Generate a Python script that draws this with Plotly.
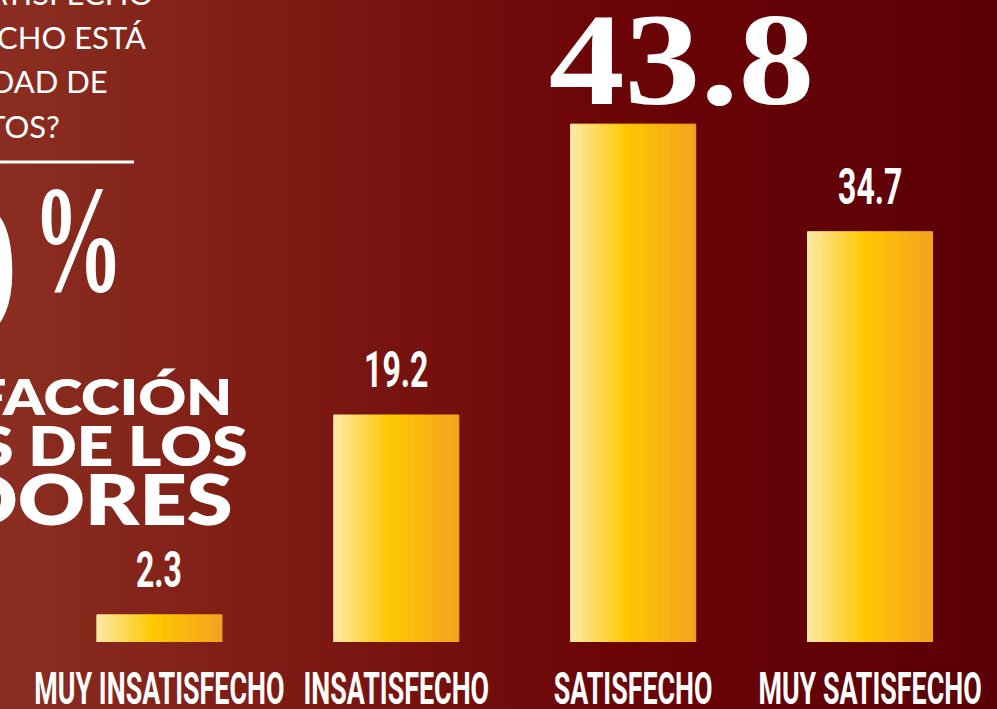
import base64
import plotly.graph_objects as go

# ---------------- data ----------------
categories = ["MUY INSATISFECHO", "INSATISFECHO", "SATISFECHO", "MUY SATISFECHO"]
values = [2.3, 19.2, 43.8, 34.7]
value_labels = ["2.3", "19.2", "43.8", "34.7"]

question_lines = ["¿QUÉ TAN SATISFECHO", "O INSATISFECHO ESTÁ", "CON LA CALIDAD DE", "LOS PRODUCTOS?"]
headline_number = "79"
headline_percent = "%"
headline_lines = ["SATISFACCIÓN", "EN PRODUCTOS DE LOS", "CONSUMIDORES"]

# ---------------- style ----------------
W, H = 997, 709
MB = 67
PH = H - MB  # plot height

# font stacks; each stack gets its own horizontal scale in the post script below
COND = "Roboto, Liberation Sans, sans-serif"                   # condensed value labels
COND_TICK = "Roboto, Liberation Sans, DejaVu Sans, sans-serif"  # condensed category labels
SERIF_WIDE = "Liberation Serif, serif"                          # big headline number
SERIF_PCT = "Liberation Serif, Tinos, serif"                    # tall narrow percent sign
SERIF = "Liberation Serif, DejaVu Serif, serif"
GEO_BOLD = "Lato, Open Sans, sans-serif"                        # geometric headline
GEO = "Lato, Noto Sans, sans-serif"                             # question text

SCALE = {COND: 0.64, COND_TICK: 0.61, SERIF_WIDE: 1.15, SERIF_PCT: 0.6, GEO_BOLD: 1.18}


def px_x(px):
    return px / W


def px_y(py):
    return (PH - py) / PH


bar_stops = [(0.0, (254, 233, 170)), (0.45, (255, 201, 2)), (1.0, (244, 163, 32))]


def grad(t):
    for (t0, c0), (t1, c1) in zip(bar_stops[:-1], bar_stops[1:]):
        if t <= t1:
            f = (t - t0) / (t1 - t0)
            return "rgb(%d,%d,%d)" % tuple(round(a + (b - a) * f) for a, b in zip(c0, c1))
    return "rgb(%d,%d,%d)" % bar_stops[-1][1]


bg_svg = (
    '<svg xmlns="http://www.w3.org/2000/svg" width="997" height="709" preserveAspectRatio="none">'
    '<defs><linearGradient id="g" x1="0" y1="0" x2="1" y2="0">'
    '<stop offset="0" stop-color="#8b2e21"/>'
    '<stop offset="0.3" stop-color="#7d1a13"/>'
    '<stop offset="0.6" stop-color="#6c0508"/>'
    '<stop offset="1" stop-color="#5a0006"/>'
    '</linearGradient></defs>'
    '<rect width="997" height="709" fill="url(#g)"/></svg>'
)
bg_uri = "data:image/svg+xml;base64," + base64.b64encode(bg_svg.encode()).decode()

fig = go.Figure()

# each bar is drawn as a group of narrow strips giving the horizontal gold gradient
N = 40
for i in range(N):
    col = grad((i + 0.5) / N)
    fig.add_trace(go.Bar(
        x=categories, y=values,
        marker=dict(color=col, line=dict(width=1, color=col)),
        showlegend=False, hoverinfo="skip" if i else "x+y",
    ))

annotations = []
vmax = max(values)
for cat, v, lab in zip(categories, values, value_labels):
    if v == vmax:
        annotations.append(dict(x=cat, y=v, xref="x", yref="y", text=lab, showarrow=False,
                                xanchor="center", yanchor="bottom", yshift=-11, xshift=48,
                                font=dict(family=SERIF_WIDE, size=132, color="white", weight="bold")))
    else:
        annotations.append(dict(x=cat, y=v, xref="x", yref="y", text=lab, showarrow=False,
                                xanchor="center", yanchor="bottom", yshift=14,
                                font=dict(family=COND, size=50, color="white", weight="bold")))

# question block (left, partially cut by the edge)
q_right = [155, 148, 110, 62]
q_center = [-7, 37, 81, 126]
for txt, r, c in zip(question_lines, q_right, q_center):
    annotations.append(dict(x=px_x(r), y=px_y(c), xref="paper", yref="paper", text=txt,
                            showarrow=False, xanchor="right", yanchor="middle", align="right",
                            font=dict(family=GEO, size=31, color="white")))

annotations.append(dict(x=px_x(22), y=px_y(270), xref="paper", yref="paper", text=headline_number,
                        showarrow=False, xanchor="right", yanchor="middle",
                        font=dict(family=SERIF, size=215, color="white", weight="bold")))
annotations.append(dict(x=px_x(78), y=px_y(240), xref="paper", yref="paper", text=headline_percent,
                        showarrow=False, xanchor="center", yanchor="middle",
                        font=dict(family=SERIF_PCT, size=152, color="white", weight="bold")))

h_right = [234, 250, 234]
h_center = [396, 445, 498]
h_size = [50, 54, 70]
for txt, r, c, s in zip(headline_lines, h_right, h_center, h_size):
    annotations.append(dict(x=px_x(r), y=px_y(c), xref="paper", yref="paper", text=txt,
                            showarrow=False, xanchor="right", yanchor="middle", align="right",
                            font=dict(family=GEO_BOLD, size=s, color="white", weight=800)))

fig.update_layout(
    width=W, height=H,
    margin=dict(l=0, r=0, t=0, b=MB, pad=0, autoexpand=False),
    paper_bgcolor="#6c0508",
    plot_bgcolor="rgba(0,0,0,0)",
    barmode="group", bargap=0.472, bargroupgap=0,
    showlegend=False,
    annotations=annotations,
    shapes=[dict(type="line", xref="paper", yref="paper", x0=-0.01, x1=px_x(134),
                 y0=px_y(162), y1=px_y(162), line=dict(color="white", width=3))],
    images=[dict(source=bg_uri, xref="paper", yref="paper", x=0, y=1, sizex=1, sizey=H / PH,
                 xanchor="left", yanchor="top", sizing="stretch", layer="below")],
    xaxis=dict(type="category", range=[-0.673, 3.536], showgrid=False, zeroline=False,
               showline=False, ticks="", ticklabelstandoff=17, tickangle=0, automargin=False,
               tickfont=dict(family=COND_TICK, size=44, color="white", weight="bold")),
    yaxis=dict(range=[0, 54.3], visible=False, showgrid=False, zeroline=False, automargin=False),
)


def norm(s):
    return "".join(ch for ch in s if ch not in "\"' ").lower()


scale_js = ",".join("'%s': %s" % (norm(k), v) for k, v in SCALE.items())

# Horizontal scaling of the poster lettering (text stays real SVG text).
post = """
document.body.style.margin = '0';
var gd = document.getElementById('{plot_id}');
var factors = {%s};
gd.querySelectorAll('text').forEach(function(t){
  var ff = (t.style.fontFamily || '').replace(/["'\\s]/g, '').toLowerCase();
  var f = factors[ff];
  if (f) {
    var w = t.getComputedTextLength();
    t.setAttribute('lengthAdjust', 'spacingAndGlyphs');
    t.setAttribute('textLength', (w * f).toFixed(1));
  }
});
""" % scale_js

fig.write_html("out.html", post_script=post, config={"displayModeBar": False})
